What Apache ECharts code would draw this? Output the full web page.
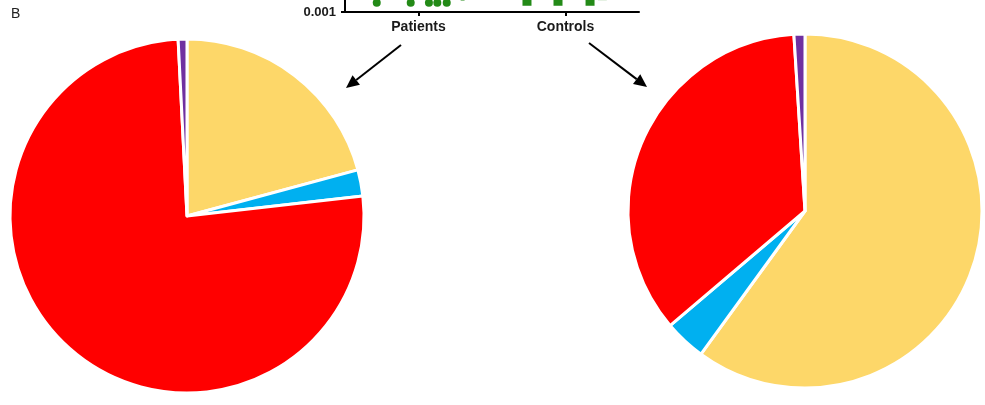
<!DOCTYPE html>
<html>
<head>
<meta charset="utf-8">
<script src="https://cdn.jsdelivr.net/npm/echarts@6/dist/echarts.min.js"></script>
<style>
html,body{margin:0;padding:0;background:#fff;}
#chart{width:985px;height:405px;}
</style>
</head>
<body>
<div id="chart"></div>
<script>
// ---- Data ----
const groupLabels = ['Patients', 'Controls'];
const sliceNames = ['Category 1', 'Category 2', 'Category 3', 'Category 4'];
const sliceColors = ['#FDD769', '#00B0F0', '#FF0000', '#7030A0'];
const patientsShares = [20.8, 2.4, 76.0, 0.8];
const controlsShares = [60.0, 3.8, 35.2, 1.0];
// partially visible scatter (top panel, cropped): [x position within axis 0..2, value]
const patientsPoints = [[0.216, 0.0019], [0.447, 0.0019], [0.571, 0.0019], [0.628, 0.0019], [0.692, 0.0019], [0.80, 0.0029]];
const controlsPoints = [[1.238, 0.0021], [1.449, 0.0021], [1.667, 0.0021], [1.75, 0.0031]];
const yTickLabels = ['0.001'];

const FONT = '"Liberation Sans", Arial, sans-serif';
const chart = echarts.init(document.getElementById('chart'), null, {renderer: 'canvas'});

function arrow(x1, y1, x2, y2) {
  const dx = x2 - x1, dy = y2 - y1, L = Math.hypot(dx, dy);
  const ux = dx / L, uy = dy / L, head = 13, hw = 6;
  const bx = x2 - ux * head, by = y2 - uy * head;
  const nx = -uy * hw, ny = ux * hw;
  return [
    {type: 'line', shape: {x1: x1, y1: y1, x2: bx, y2: by}, style: {stroke: '#000', lineWidth: 2}},
    {type: 'polygon', shape: {points: [[x2, y2], [bx + nx, by + ny], [bx - nx, by - ny]]}, style: {fill: '#000'}}
  ];
}

function pieData(shares) {
  return shares.map((v, i) => ({name: sliceNames[i], value: v, itemStyle: {color: sliceColors[i]}}));
}

const option = {
  animation: false,
  backgroundColor: '#fff',
  grid: {left: 345, width: 294, top: -88, height: 100, containLabel: false, outerBoundsMode: 'none'},
  xAxis: [
    {
      type: 'category', data: groupLabels,
      axisLine: {show: true, lineStyle: {color: '#000', width: 2}},
      axisTick: {show: true, alignWithLabel: true, length: 4, lineStyle: {color: '#000', width: 2}},
      axisLabel: {color: '#1a1a1a', fontFamily: FONT, fontWeight: 'bold', fontSize: 14, margin: 8},
      splitLine: {show: false}
    },
    {type: 'value', min: 0, max: 2, show: false}
  ],
  yAxis: {
    type: 'log', logBase: 10, min: 0.001, max: 1,
    axisLine: {show: true, lineStyle: {color: '#000', width: 2}},
    axisTick: {show: true, length: 4, lineStyle: {color: '#000', width: 2}},
    minorTick: {show: true, splitNumber: 3, length: 3, lineStyle: {color: '#000', width: 1.5}},
    axisLabel: {
      color: '#1a1a1a', fontFamily: FONT, fontWeight: 'bold', fontSize: 13, margin: 9,
      formatter: v => (Math.abs(v - 0.001) < 1e-9 ? yTickLabels[0] : '')
    },
    splitLine: {show: false}
  },
  graphic: [
    {type: 'text', left: 11, top: 7, style: {text: 'B', font: '14px ' + FONT, fill: '#222'}},
    ...arrow(401, 45, 346, 88),
    ...arrow(589, 43, 647, 87)
  ],
  series: [
    {
      type: 'scatter', xAxisIndex: 1, data: patientsPoints, symbol: 'circle', symbolSize: 8,
      itemStyle: {color: '#238A17', opacity: 1}, silent: true
    },
    {
      type: 'scatter', xAxisIndex: 1, data: controlsPoints, symbol: 'rect', symbolSize: 9,
      itemStyle: {color: '#238A17', opacity: 1}, silent: true
    },
    {
      type: 'pie', center: [187, 216], radius: [0, 177], startAngle: 90, clockwise: true,
      data: pieData(patientsShares), label: {show: false}, labelLine: {show: false},
      itemStyle: {borderColor: '#fff', borderWidth: 3}, emphasis: {disabled: true}
    },
    {
      type: 'pie', center: [805, 211], radius: [0, 177], startAngle: 90, clockwise: true,
      data: pieData(controlsShares), label: {show: false}, labelLine: {show: false},
      itemStyle: {borderColor: '#fff', borderWidth: 3}, emphasis: {disabled: true}
    }
  ]
};
chart.setOption(option);
</script>
</body>
</html>
